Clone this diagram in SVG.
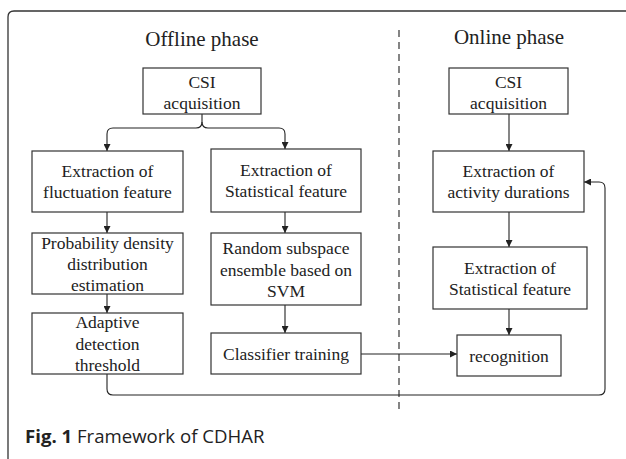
<svg xmlns="http://www.w3.org/2000/svg" width="626" height="459" viewBox="0 0 626 459">
<style>
.box{fill:#fff;stroke:#333;stroke-width:1.2}
.t{font-family:"Liberation Serif","Times New Roman",serif;font-size:17.5px;fill:#222;text-anchor:middle}
.h{font-family:"Liberation Serif","Times New Roman",serif;font-size:21px;fill:#222;text-anchor:middle}
.c{fill:none;stroke:#222;stroke-width:1.1}
.cap{font-family:"Open Sans","Noto Sans",sans-serif;font-size:18.6px;fill:#222}
</style>
<defs>
<marker id="ah" viewBox="0 0 10 10" refX="10" refY="5" markerWidth="7" markerHeight="7" markerUnits="userSpaceOnUse" orient="auto"><path d="M0,0L10,5L0,10z" fill="#222"/></marker>
</defs>
<rect width="626" height="459" fill="#fff"/>
<path d="M8,470 V17 Q8,11 14,11 H640" fill="none" stroke="#333" stroke-width="1.3"/>
<line x1="399" y1="30" x2="399" y2="410" stroke="#222" stroke-width="1.1" stroke-dasharray="7,5"/>
<text class="h" x="202" y="46">Offline phase</text>
<text class="h" x="509" y="44">Online phase</text>

<g id="connectors">
<path class="c" d="M202,114 V122 Q202,128 196,128 H113 Q107,128 107,134 V151" marker-end="url(#ah)"/>
<path class="c" d="M202,122 Q202,128 208,128 H279 Q285,128 285,134 V149" marker-end="url(#ah)"/>
<path class="c" d="M107,212 V233" marker-end="url(#ah)"/>
<path class="c" d="M107,294 V313" marker-end="url(#ah)"/>
<path class="c" d="M285,212 V233" marker-end="url(#ah)"/>
<path class="c" d="M285,305 V333" marker-end="url(#ah)"/>
<path class="c" d="M361,354 H457" marker-end="url(#ah)"/>
<path class="c" d="M509,114 V151" marker-end="url(#ah)"/>
<path class="c" d="M509,212 V247" marker-end="url(#ah)"/>
<path class="c" d="M509,309 V335" marker-end="url(#ah)"/>
<path class="c" d="M107,374 V389 Q107,395 113,395 H599 Q605,395 605,389 V188 Q605,182 599,182 H584" marker-end="url(#ah)"/>
</g>

<g id="off-csi"><rect class="box" x="143" y="68" width="118" height="46"/><text class="t" x="202" y="88">CSI</text><text class="t" x="202" y="109">acquisition</text></g>
<g id="off-fluct"><rect class="box" x="32" y="151" width="151" height="61"/><text class="t" x="107.5" y="177">Extraction of</text><text class="t" x="107.5" y="198">fluctuation feature</text></g>
<g id="off-stat"><rect class="box" x="211" y="149" width="150" height="63"/><text class="t" x="286" y="176">Extraction of</text><text class="t" x="286" y="197">Statistical feature</text></g>
<g id="off-prob"><rect class="box" x="32" y="233" width="151" height="61"/><text class="t" x="107.5" y="249">Probability density</text><text class="t" x="107.5" y="270">distribution</text><text class="t" x="107.5" y="291">estimation</text></g>
<g id="off-adapt"><rect class="box" x="32" y="313" width="151" height="61"/><text class="t" x="107.5" y="328">Adaptive</text><text class="t" x="107.5" y="350">detection</text><text class="t" x="107.5" y="371">threshold</text></g>
<g id="off-rand"><rect class="box" x="211" y="233" width="150" height="72"/><text class="t" x="286" y="254">Random subspace</text><text class="t" x="286" y="276">ensemble based on</text><text class="t" x="286" y="297">SVM</text></g>
<g id="off-clf"><rect class="box" x="211" y="333" width="150" height="41"/><text class="t" x="286" y="360">Classifier training</text></g>

<g id="on-csi"><rect class="box" x="449" y="68" width="119" height="46"/><text class="t" x="508.5" y="88">CSI</text><text class="t" x="508.5" y="109">acquisition</text></g>
<g id="on-dur"><rect class="box" x="433" y="151" width="151" height="61"/><text class="t" x="508.5" y="177">Extraction of</text><text class="t" x="508.5" y="198">activity durations</text></g>
<g id="on-stat"><rect class="box" x="433" y="247" width="154" height="62"/><text class="t" x="510" y="274">Extraction of</text><text class="t" x="510" y="295">Statistical feature</text></g>
<g id="on-rec"><rect class="box" x="457" y="335" width="104" height="41"/><text class="t" x="509" y="362">recognition</text></g>

<text class="cap" x="25" y="443"><tspan font-weight="bold">Fig. 1</tspan> Framework of CDHAR</text>
</svg>
